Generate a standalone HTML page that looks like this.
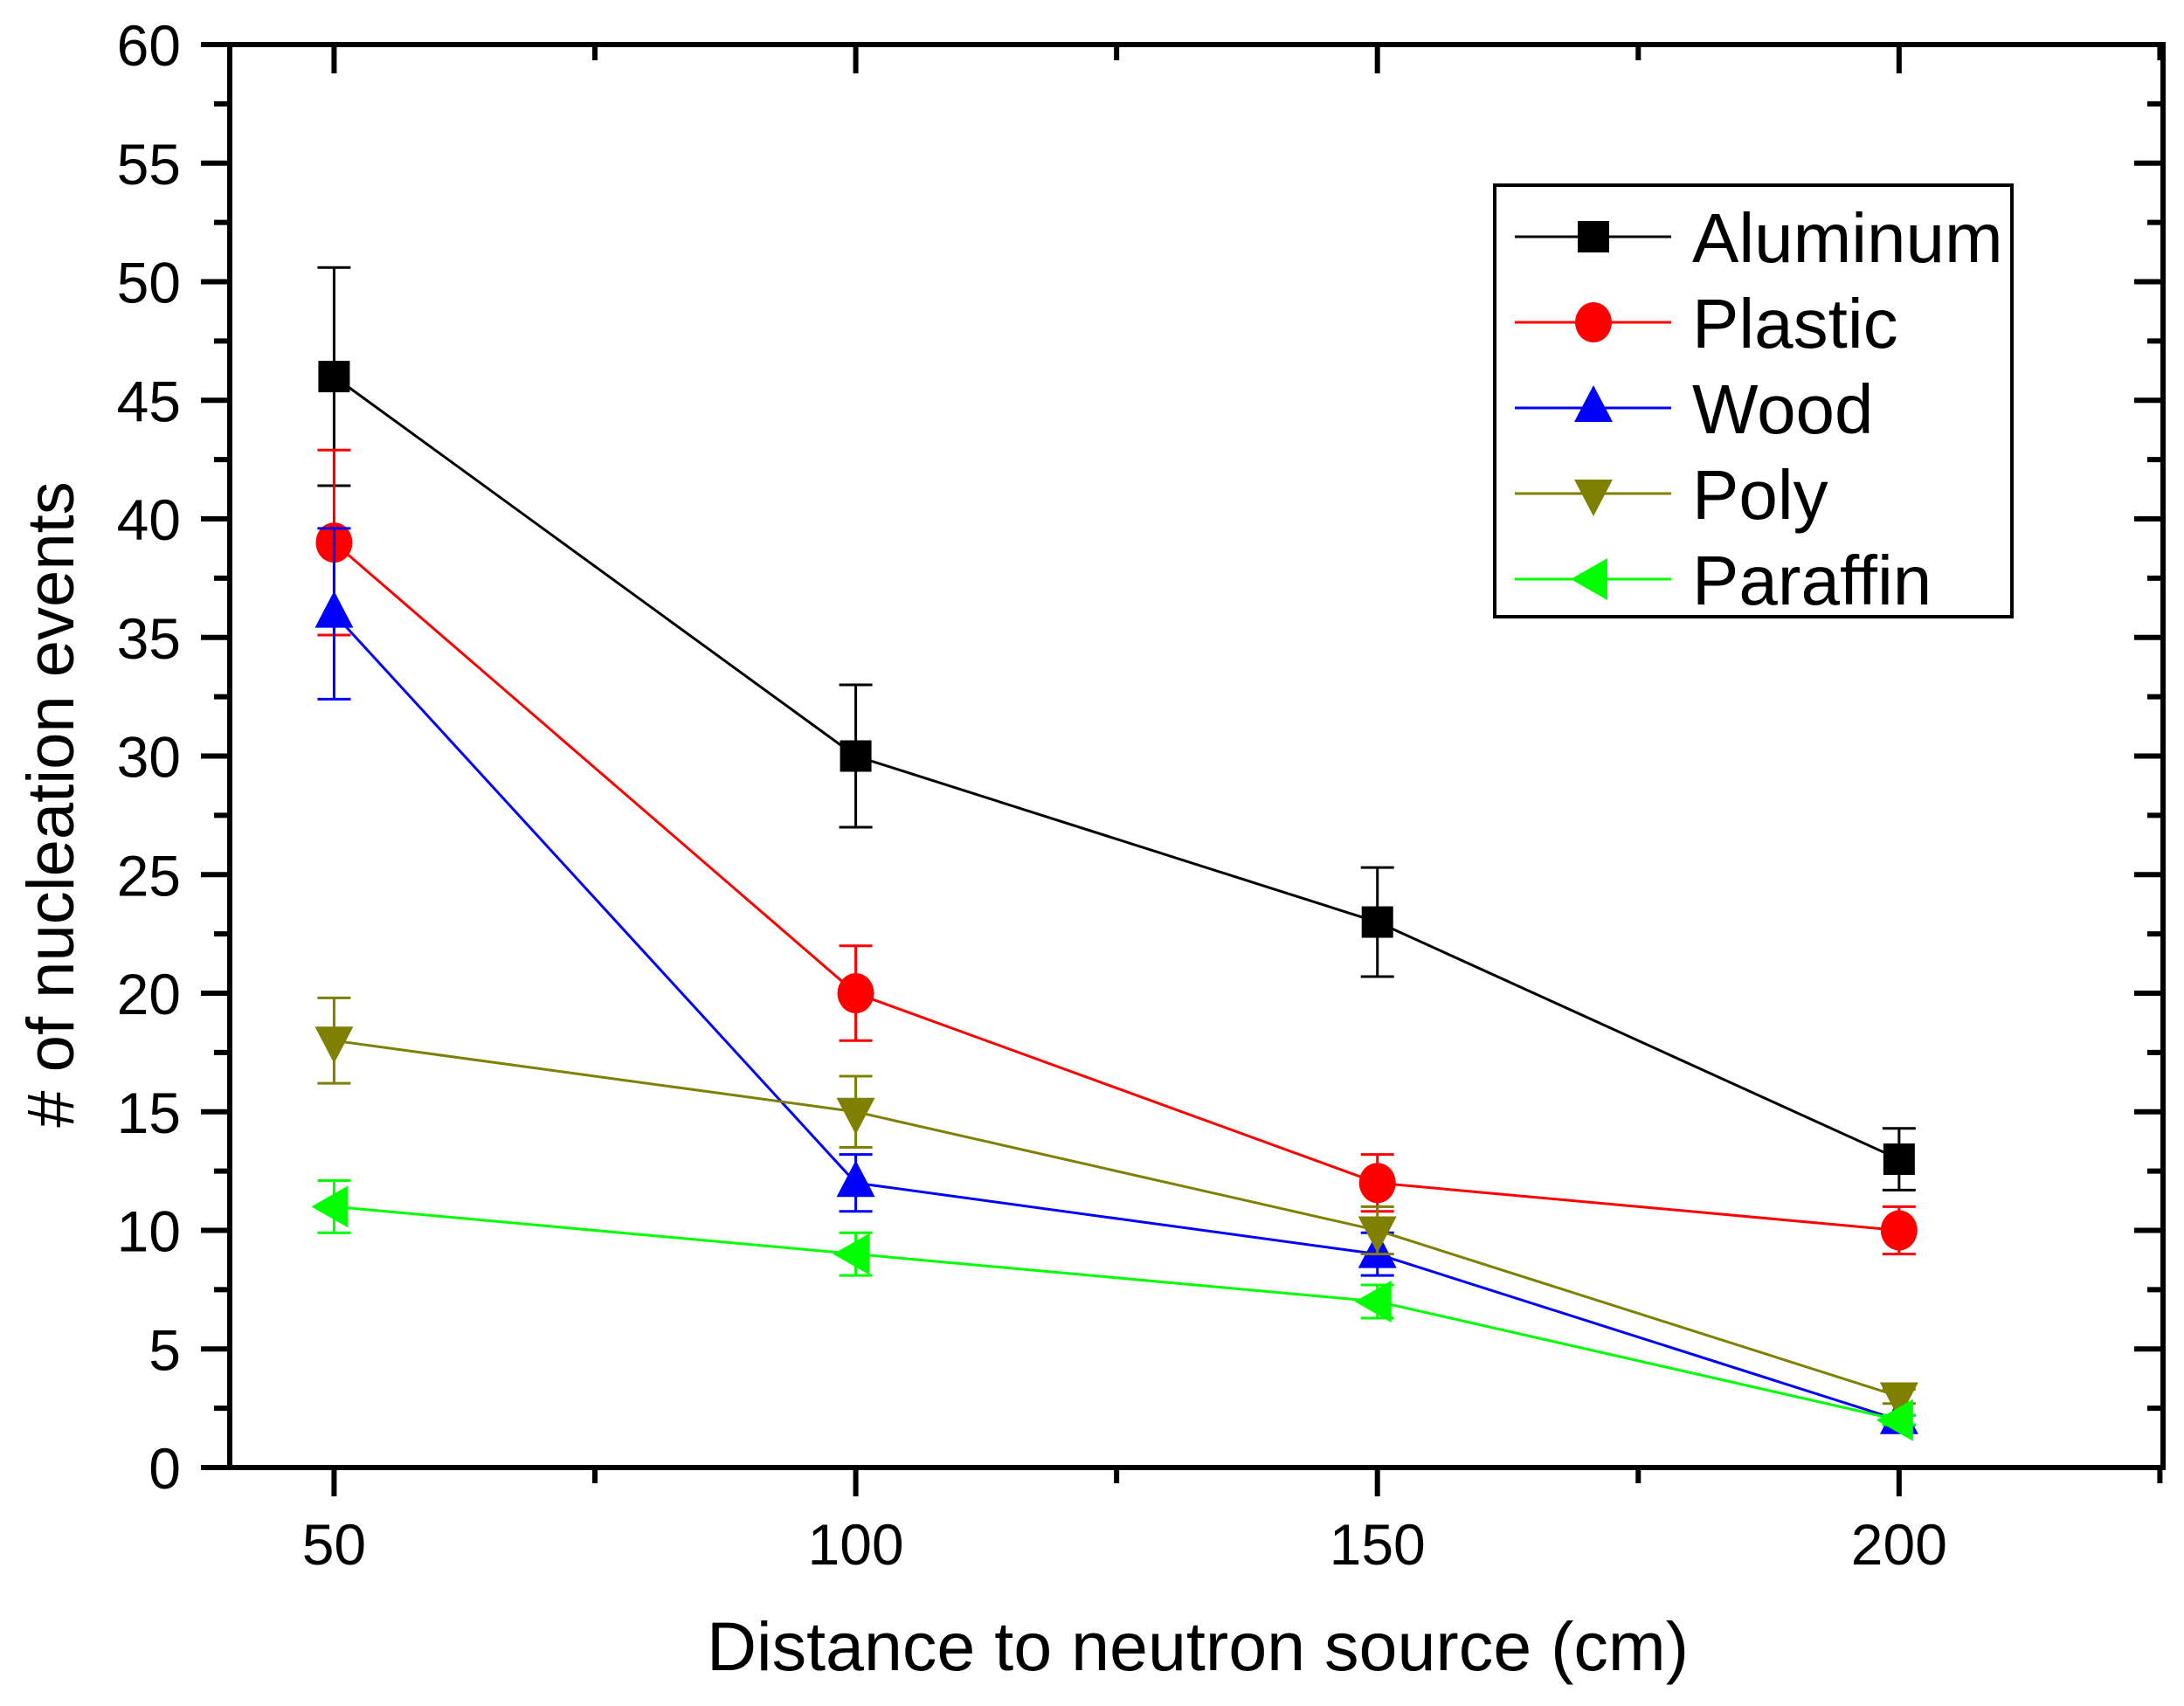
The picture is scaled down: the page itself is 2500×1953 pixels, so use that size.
<!DOCTYPE html>
<html><head><meta charset="utf-8"><style>
html,body{margin:0;padding:0;background:#fff}
svg{display:block;font-family:"Liberation Sans",Arial,sans-serif}
</style></head><body>
<svg id="chart" width="2500" height="1953" viewBox="0 0 2500 1953" xmlns="http://www.w3.org/2000/svg">
<g id="axes"></g>
<g id="series"></g>
<g id="legend"></g>
<text x="1371" y="1912" font-size="79" text-anchor="middle">Distance to neutron source (cm)</text>
<text transform="translate(84,921) rotate(-90)" font-size="76" text-anchor="middle">
# of nucleation events</text>
</svg>
<script>
const categories = [50, 100, 150, 200];
const seriesNames = ["Aluminum", "Plastic", "Wood", "Poly", "Paraffin"];
const aluminum = [46, 30, 23, 13];
const plastic = [39, 20, 12, 10];
const wood = [36, 12, 9, 2];
const poly = [18, 15, 10, 3];
const paraffin = [11, 9, 7, 2];
const aluminumErr = [4.6, 3, 2.3, 1.3];
const plasticErr = [3.9, 2, 1.2, 1];
const woodErr = [3.6, 1.2, 0.9, 0.2];
const polyErr = [1.8, 1.5, 1, 0.3];
const paraffinErr = [1.1, 0.9, 0.7, 0.2];
const yTicks = [0, 5, 10, 15, 20, 25, 30, 35, 40, 45, 50, 55, 60];
const xTicks = [50, 100, 150, 200];

const L = 263, R = 2476, T = 51, B = 1680;
const xMin = 40, xMax = 225.3, yMin = 0, yMax = 60;
const xs = v => L + (v - xMin) / (xMax - xMin) * (R - L);
const ys = v => B - (v - yMin) / (yMax - yMin) * (B - T);
const NS = "http://www.w3.org/2000/svg";
function mk(tag, attrs, parent) {
  const e = document.createElementNS(NS, tag);
  for (const k in attrs) e.setAttribute(k, attrs[k]);
  parent.appendChild(e);
  return e;
}
const axes = document.getElementById('axes');
const frame = mk('rect', {x: L, y: T, width: R - L, height: B - T, fill: 'none', stroke: '#000', 'stroke-width': 6}, axes);


for (let v = 0; v <= 60; v += 2.5) {
  const major = v % 5 === 0;
  const len = major ? 33 : 18;
  const y = ys(v);
  const t1 = mk('line', {x1: L - len, x2: L, y1: y, y2: y, stroke: '#000', 'stroke-width': 6}, axes);
  
  
  const t2 = mk('line', {x1: R - len, x2: R, y1: y, y2: y, stroke: '#000', 'stroke-width': 6}, axes);
  
  
}
yTicks.forEach(v => {
  const t = mk('text', {x: 207, y: ys(v) + 24, 'font-size': 66, 'text-anchor': 'end'}, axes);
  t.textContent = v;
  
  
});
for (let v = 50; v <= 225; v += 25) {
  const major = v % 50 === 0;
  const len = major ? 33 : 18;
  const x = xs(v);
  const t1 = mk('line', {x1: x, x2: x, y1: B, y2: B + len, stroke: '#000', 'stroke-width': 6}, axes);
  
  
  const t2 = mk('line', {x1: x, x2: x, y1: T, y2: T + len, stroke: '#000', 'stroke-width': 6}, axes);
  
  
}
xTicks.forEach(v => {
  const t = mk('text', {x: xs(v), y: 1791, 'font-size': 66, 'text-anchor': 'middle'}, axes);
  t.textContent = v;
  
  
});

const colors = ['#000000', '#ff0000', '#0000ff', '#808000', '#00ff00'];
const shapes = ['square', 'circle', 'up', 'down', 'left'];
const allVals = [aluminum, plastic, wood, poly, paraffin];
const allErr = [aluminumErr, plasticErr, woodErr, polyErr, paraffinErr];

function marker(shape, cx, cy, color, parent) {
  let e;
  if (shape === 'square') e = mk('rect', {x: cx - 18, y: cy - 18, width: 36, height: 36, fill: color}, parent);
  else if (shape === 'circle') e = mk('ellipse', {cx: cx, cy: cy, rx: 21, ry: 23, fill: color}, parent);
  else if (shape === 'up') e = mk('polygon', {points: `${cx},${cy - 26} ${cx + 22},${cy + 16} ${cx - 22},${cy + 16}`, fill: color}, parent);
  else if (shape === 'down') e = mk('polygon', {points: `${cx},${cy + 26} ${cx + 22},${cy - 16} ${cx - 22},${cy - 16}`, fill: color}, parent);
  else e = mk('polygon', {points: `${cx - 26},${cy} ${cx + 16},${cy - 24} ${cx + 16},${cy + 24}`, fill: color}, parent);
  return e;
}

const sg = document.getElementById('series');
allVals.forEach((vals, si) => {
  const g = mk('g', {}, sg);
  
  
  const c = colors[si];
  const pl = mk('polyline', {points: vals.map((v, i) => xs(categories[i]) + ',' + ys(v)).join(' '), fill: 'none', stroke: c, 'stroke-width': 3}, g);
  
  
  vals.forEach((v, i) => {
    const x = xs(categories[i]), e = allErr[si][i];
    const eb = mk('path', {d: `M${x},${ys(v + e)}V${ys(v - e)}M${x - 19},${ys(v + e)}H${x + 19}M${x - 19},${ys(v - e)}H${x + 19}`, stroke: c, 'stroke-width': 3, fill: 'none'}, g);
    
    
    const m = marker(shapes[si], x, ys(v), c, g);
    
    
  });
});

const lg = document.getElementById('legend');
const box = mk('rect', {x: 1711, y: 212, width: 592, height: 494, fill: '#fff', stroke: '#000', 'stroke-width': 4}, lg);


seriesNames.forEach((n, i) => {
  const y = 271 + i * 98;
  const g = mk('g', {}, lg);
  
  
  mk('line', {x1: 1734, x2: 1913, y1: y, y2: y, stroke: colors[i], 'stroke-width': 3}, g);
  marker(shapes[i], 1824, y, colors[i], g);
  const t = mk('text', {x: 1937, y: y + 29, 'font-size': 80}, g);
  t.textContent = n;
});
</script>
</body></html>
